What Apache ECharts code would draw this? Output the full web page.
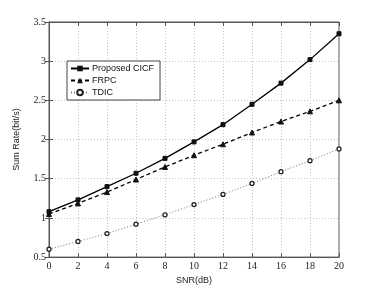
<!DOCTYPE html>
<html><head><meta charset="utf-8">
<script src="https://cdn.jsdelivr.net/npm/echarts@6/dist/echarts.min.js"></script>
<style>html,body{margin:0;padding:0;background:#fff}#c{width:374px;height:290px}</style>
</head><body><div id="c"></div>
<script>
const snr = [0, 2, 4, 6, 8, 10, 12, 14, 16, 18, 20];
const proposed = [1.08, 1.23, 1.40, 1.57, 1.76, 1.97, 2.19, 2.45, 2.72, 3.02, 3.35];
const frpc = [1.05, 1.185, 1.33, 1.49, 1.65, 1.80, 1.94, 2.09, 2.23, 2.36, 2.50];
const tdic = [0.60, 0.70, 0.80, 0.92, 1.04, 1.17, 1.30, 1.44, 1.59, 1.73, 1.88];
const names = ['Proposed CICF', 'FRPC', 'TDIC'];

const pairs = v => snr.map((x, i) => [x, v[i]]);
const serif = 'Liberation Serif';
const sans = 'Liberation Sans';
const chart = echarts.init(document.getElementById('c'));
const axCommon = {
  axisLine: {show: true, lineStyle: {color: '#555', width: 1}},
  axisTick: {show: true, inside: true, length: 4, lineStyle: {color: '#555'}},
};
chart.setOption({
  animation: false,
  backgroundColor: '#fff',
  grid: {left: 49, right: 35, top: 22, bottom: 32, show: true, borderColor: '#555', borderWidth: 1},
  legend: {
    left: 67, top: 61, orient: 'vertical', itemGap: 3, itemWidth: 18, itemHeight: 7,
    backgroundColor: '#fff', borderColor: '#444', borderWidth: 1, padding: [3, 6, 3, 3],
    textStyle: {fontFamily: sans, fontSize: 9, color: '#111', padding: [0, 0, 0, -2]},
    data: names
  },
  xAxis: [{
    type: 'value', min: 0, max: 20, interval: 2,
    name: 'SNR(dB)', nameLocation: 'middle', nameGap: 17,
    nameTextStyle: {fontFamily: sans, fontSize: 9, color: '#222'},
    axisLabel: {fontFamily: serif, fontSize: 10, color: '#222', margin: 4},
    splitLine: {show: true, lineStyle: {color: '#c4c4c4', type: [1, 2], width: 1}},
    ...axCommon
  }, {
    type: 'value', min: 0, max: 20, interval: 2, position: 'top',
    axisLabel: {show: false}, splitLine: {show: false}, ...axCommon
  }],
  yAxis: [{
    type: 'value', min: 0.5, max: 3.5, interval: 0.5,
    name: 'Sum Rate(bit/s)', nameLocation: 'middle', nameGap: 28, nameRotate: 90,
    nameTextStyle: {fontFamily: sans, fontSize: 9, color: '#222'},
    axisLabel: {fontFamily: serif, fontSize: 10, color: '#222', margin: 3},
    splitLine: {show: true, lineStyle: {color: '#c4c4c4', type: [1, 2], width: 1}},
    ...axCommon
  }, {
    type: 'value', min: 0.5, max: 3.5, interval: 0.5, position: 'right',
    axisLabel: {show: false}, splitLine: {show: false}, ...axCommon
  }],
  series: [
    {name: names[0], type: 'line', data: pairs(proposed), symbol: 'rect', symbolSize: 4,
     lineStyle: {color: '#000', width: 1.3, type: 'solid'}, itemStyle: {color: '#111', borderColor: '#111'}},
    {name: names[1], type: 'line', data: pairs(frpc), symbol: 'triangle', symbolSize: 5,
     lineStyle: {color: '#000', width: 1.3, type: [4, 3]}, itemStyle: {color: '#111', borderColor: '#111'}},
    {name: names[2], type: 'line', data: pairs(tdic), symbol: 'circle', symbolSize: 4,
     lineStyle: {color: '#777', width: 1, type: [1, 2]}, itemStyle: {color: '#fff', borderColor: '#222', borderWidth: 1.3}}
  ]
});
</script></body></html>
